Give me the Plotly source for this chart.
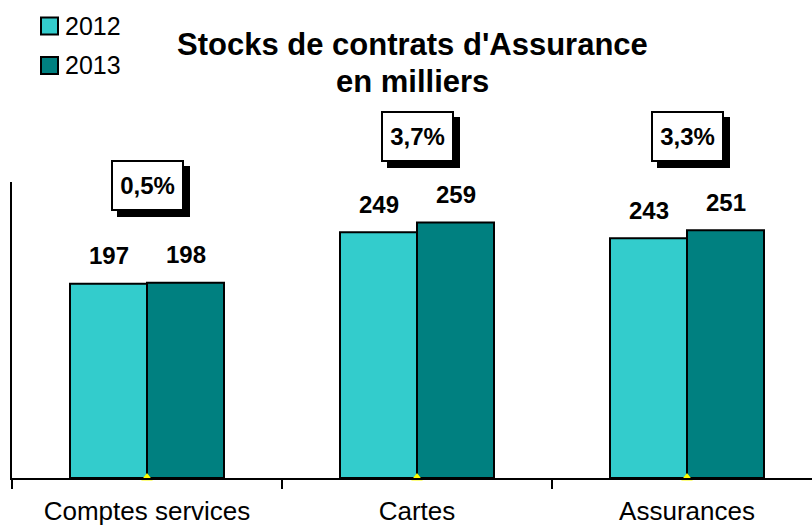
import plotly.graph_objects as go

categories = ["Comptes services", "Cartes", "Assurances"]
series_names = ["2012", "2013"]
values_2012 = [197, 249, 243]
values_2013 = [198, 259, 251]
growth_labels = ["0,5%", "3,7%", "3,3%"]
title_lines = ["Stocks de contrats d'Assurance", "en milliers"]
colors = ["#33CCCC", "#008080"]

FONT = "Liberation Sans, Arial, sans-serif"
W, H = 812, 529
L, R, T, B = 12, 0, 182, 51
plot_w = W - L - R
plot_h = H - T - B
cat_px = 270.0
BARGAP = 1 - 154 / 270
bar_frac = (1 - BARGAP) / 2
y_max = 300
box_levels = [296, 346.5, 346.5]


def px_to_paper_x(px):
    return (px - L) / plot_w


def px_to_paper_y(py):
    return (H - B - py) / plot_h


fig = go.Figure()
for name, vals, col in zip(series_names, [values_2012, values_2013], colors):
    fig.add_trace(go.Bar(
        x=categories, y=vals, name=name,
        marker=dict(color=col, line=dict(color="black", width=2)),
        showlegend=False,
    ))

fig.add_trace(go.Scatter(
    x=categories, y=[0] * len(categories), mode="markers",
    marker=dict(symbol="triangle-up", size=10, color="#FFFF00", line=dict(width=0)),
    cliponaxis=False, showlegend=False, hoverinfo="skip",
))

annotations = []
# value labels
for s, vals in enumerate([values_2012, values_2013]):
    off = (s - 0.5) * bar_frac
    for i, v in enumerate(vals):
        annotations.append(dict(
            x=i + off, y=v, xref="x", yref="y", text=f"<b>{v}</b>",
            showarrow=False, yanchor="middle", yshift=28,
            font=dict(family=FONT, size=24, color="black"),
        ))
# growth boxes with shadow
for i, g in enumerate(growth_labels):
    yp = box_levels[i] / y_max
    annotations.append(dict(
        x=i, y=yp, xref="x", yref="paper", text=" ",
        showarrow=False, xshift=6, yshift=-6, width=65, height=43,
        xanchor="center", yanchor="middle",
        bgcolor="black", bordercolor="black", borderwidth=2, borderpad=2,
        font=dict(family=FONT, size=24, color="black"),
    ))
    annotations.append(dict(
        x=i, y=yp, xref="x", yref="paper", text=f"<b>{g}</b>",
        showarrow=False, width=65, height=43,
        xanchor="center", yanchor="middle",
        bgcolor="white", bordercolor="black", borderwidth=2, borderpad=2,
        font=dict(family=FONT, size=24, color="black"),
    ))

# title lines
for txt, cy in zip(title_lines, [44, 82]):
    annotations.append(dict(
        x=0.5, y=px_to_paper_y(cy), xref="paper", yref="paper",
        text=f"<b>{txt}</b>", showarrow=False, xanchor="center", yanchor="middle",
        font=dict(family=FONT, size=31, color="black"),
    ))

# manual legend
shapes = []
legend_rows = [26, 65.5]
for name, col, cy in zip(series_names, colors, legend_rows):
    shapes.append(dict(
        type="rect", xref="paper", yref="paper",
        x0=px_to_paper_x(41), x1=px_to_paper_x(58),
        y0=px_to_paper_y(cy + 8.5), y1=px_to_paper_y(cy - 8.5),
        fillcolor=col, line=dict(color="black", width=2),
    ))
    annotations.append(dict(
        x=px_to_paper_x(63), y=px_to_paper_y(cy), xref="paper", yref="paper",
        text=name, showarrow=False, xanchor="left", yanchor="middle",
        font=dict(family=FONT, size=25, color="black"),
    ))

fig.update_layout(
    width=W, height=H,
    margin=dict(l=L, r=R, t=T, b=B, pad=0),
    paper_bgcolor="white", plot_bgcolor="white",
    barmode="group", bargap=BARGAP, bargroupgap=0,
    xaxis=dict(
        type="category", range=[-0.5, -0.5 + plot_w / cat_px],
        showline=True, linecolor="black", linewidth=2,
        ticks="outside", tickson="boundaries", ticklen=9, tickwidth=2, tickcolor="black",
        ticklabelstandoff=9,
        tickfont=dict(family=FONT, size=26, color="black"),
        showgrid=False, zeroline=False,
    ),
    yaxis=dict(
        range=[0, y_max], showline=True, linecolor="black", linewidth=2,
        showticklabels=False, ticks="", showgrid=False, zeroline=False,
    ),
    annotations=annotations, shapes=shapes,
    showlegend=False,
)

fig.write_html(
    "out.html",
    config={"displayModeBar": False},
    post_script="document.body.style.margin='0px';document.body.style.overflow='hidden';",
)
